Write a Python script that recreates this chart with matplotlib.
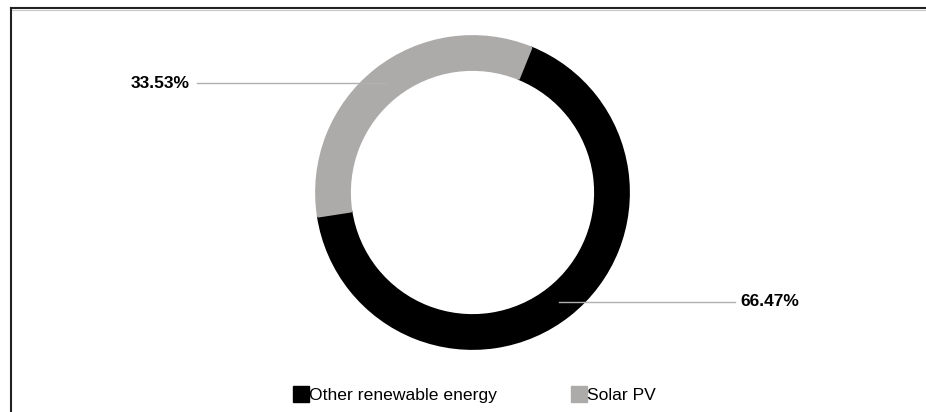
import numpy as np
import matplotlib.pyplot as plt
from matplotlib.lines import Line2D

plt.rcParams['font.family'] = ['Liberation Sans', 'DejaVu Sans']

labels = ['Other renewable energy', 'Solar PV']
shares = [66.47, 33.53]
colors = ['#000000', '#adaaaa']

W, H = 926, 412
fig = plt.figure(figsize=(W / 100, H / 100), dpi=100)
ax = fig.add_axes([0, 0, 1, 1])

cx, cy = 472.5, H - 192.5
r_out, ring = 156, 33
start = 68

wedges, _ = ax.pie(shares, colors=colors, startangle=start, counterclock=False,
                   radius=r_out, center=(cx, cy),
                   wedgeprops=dict(width=ring, linewidth=2, joinstyle='round'))
for w, c in zip(wedges, colors):
    w.set_edgecolor(c)
wedges[1].set_zorder(3)

ax.set_xlim(0, W)
ax.set_ylim(0, H)
ax.set_aspect('equal')
ax.axis('off')

# leader lines + percentage labels
label_x = {0: 740, 1: 190}
r_mid = r_out - ring / 2
for i, w in enumerate(wedges):
    ang = np.deg2rad((w.theta1 + w.theta2) / 2)
    px, py = cx + r_mid * np.cos(ang), cy + r_mid * np.sin(ang)
    if np.cos(ang) < 0:
        ax.plot([label_x[i] + 7, px], [py, py], color='#b0b0b0', lw=1, zorder=4)
        ax.text(label_x[i], py, f'{shares[i]:.2f}%', ha='right', va='center',
                fontsize=12.5, fontweight='bold')
    else:
        ax.plot([px, label_x[i] - 5], [py, py], color='#b0b0b0', lw=1, zorder=4)
        ax.text(label_x[i], py, f'{shares[i]:.2f}%', ha='left', va='center',
                fontsize=12.5, fontweight='bold')

# frame
ax.plot([11, W], [H - 8, H - 8], color='#222222', lw=1.5, clip_on=False)
ax.plot([11, W], [H - 9.5, H - 9.5], color='#c8c8c8', lw=0.8, clip_on=False)
ax.plot([11, 11], [0, H - 8], color='#222222', lw=1.5, clip_on=False)

handles = [Line2D([], [], marker='s', linestyle='none', markersize=11,
                  markerfacecolor=c, markeredgecolor=c) for c in colors]
fig.legend(handles, labels, loc='lower center', bbox_to_anchor=(0.513, -0.017),
           ncol=2, frameon=False, fontsize=12.6, handlelength=0.75,
           handletextpad=0.1, columnspacing=4.3)

fig.savefig('out.png', dpi=100)
